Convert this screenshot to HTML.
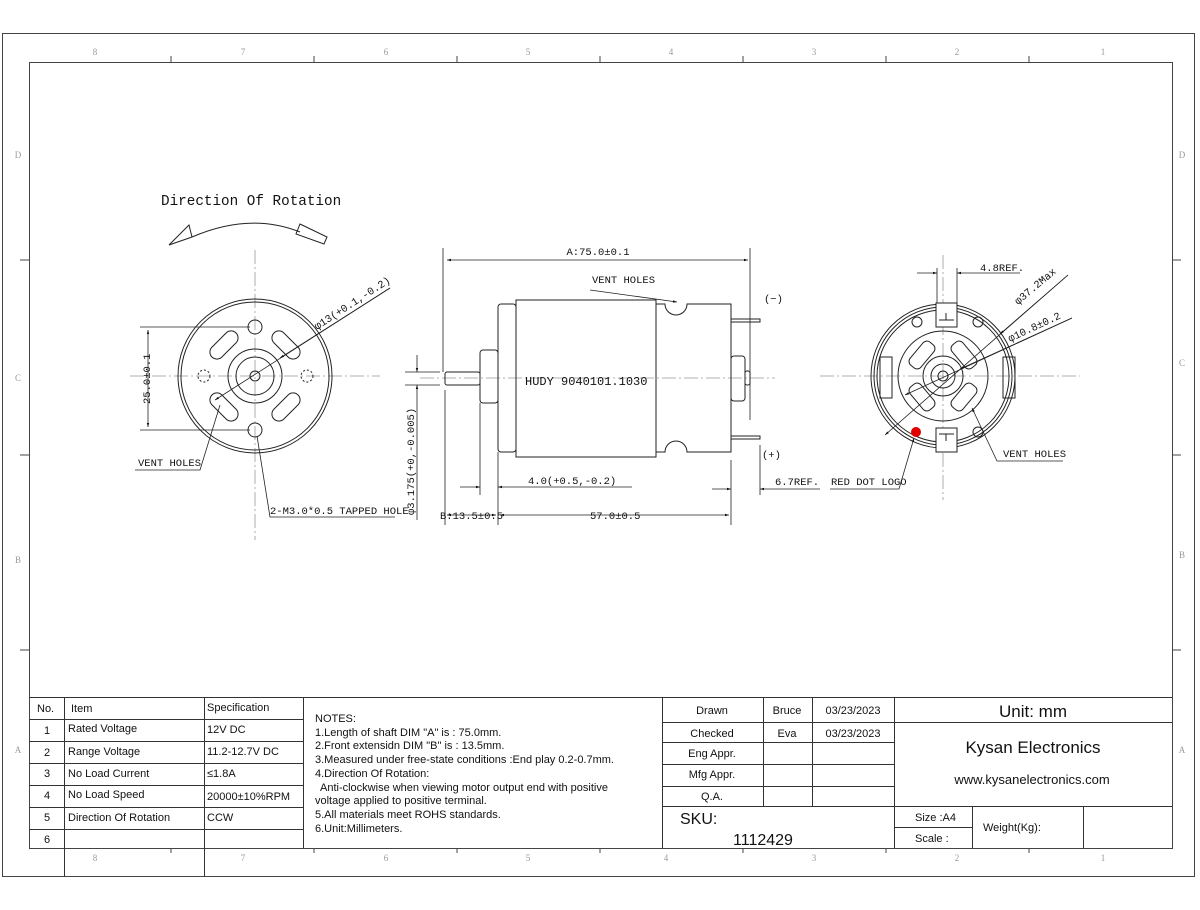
<!DOCTYPE html>
<html><head><meta charset="utf-8"><style>
html,body{margin:0;padding:0;background:#fff}
svg{display:block}
.t{font-family:"Liberation Mono",monospace;font-size:10.5px;fill:#111}
.s{font-family:"Liberation Sans",sans-serif;font-size:11px;fill:#111}
.g{font-family:"Liberation Serif",serif;font-size:9px;fill:#999}
</style></head><body>
<svg width="1200" height="910" viewBox="0 0 1200 910" xmlns="http://www.w3.org/2000/svg">
<defs>
<marker id="a" viewBox="0 0 10 10" refX="10" refY="5" markerWidth="9" markerHeight="5" orient="auto-start-reverse"><path d="M0,2 L10,5 L0,8z" fill="#111"/></marker>
</defs>
<g fill="none" stroke="#444" stroke-width="1">
<rect x="2.5" y="33.5" width="1192" height="843"/>
<rect x="29.5" y="62.5" width="1143" height="786"/>
</g>
<g stroke="#444" stroke-width="1">
<path d="M171 56v6M314 56v6M457 56v6M600 56v6M743 56v6M886 56v6M1029 56v6"/>
<path d="M171 848v5M314 848v5M457 848v5M600 848v5M743 848v5M886 848v5M1029 848v5"/>
<path d="M20 260h9M20 455h9M20 650h9M1172 260h9M1172 455h9M1172 650h9"/>
</g>
<g class="g" text-anchor="middle">
<text x="95" y="55">8</text><text x="243" y="55">7</text><text x="386" y="55">6</text><text x="528" y="55">5</text><text x="671" y="55">4</text><text x="814" y="55">3</text><text x="957" y="55">2</text><text x="1103" y="55">1</text>
<text x="95" y="861">8</text><text x="243" y="861">7</text><text x="386" y="861">6</text><text x="528" y="861">5</text><text x="666" y="861">4</text><text x="814" y="861">3</text><text x="957" y="861">2</text><text x="1103" y="861">1</text>
<text x="18" y="158">D</text><text x="18" y="381">C</text><text x="18" y="563">B</text><text x="18" y="753">A</text>
<text x="1182" y="158">D</text><text x="1182" y="366">C</text><text x="1182" y="558">B</text><text x="1182" y="753">A</text>
</g>

<!-- LEFT VIEW -->
<text x="161" y="205" class="t" style="font-size:14.3px">Direction Of Rotation</text>
<g fill="none" stroke="#222" stroke-width="1">
<path d="M192 237 Q250 212 300 232"/>
<path d="M169 245 L189 225 L192 237 Z"/>
<path d="M300 224 L327 237 L324 244 L296 234 Z"/>
</g>
<g stroke="#999" stroke-width="0.8" stroke-dasharray="14 3 2 3" fill="none">
<path d="M130 376H380M255 250V540"/>
</g>
<g fill="none" stroke="#222" stroke-width="1">
<circle cx="255" cy="376" r="77"/><circle cx="255" cy="376" r="74"/>
<circle cx="255" cy="376" r="27"/><circle cx="255" cy="376" r="19"/><circle cx="255" cy="376" r="5"/>
<circle cx="255" cy="327" r="7"/><circle cx="255" cy="430" r="7"/>
<circle cx="204" cy="376" r="6" stroke-dasharray="2 2"/><circle cx="307" cy="376" r="6" stroke-dasharray="2 2"/>
<rect x="-17" y="-7" width="34" height="14" rx="7" transform="translate(224 345) rotate(-45)"/>
<rect x="-17" y="-7" width="34" height="14" rx="7" transform="translate(286 345) rotate(45)"/>
<rect x="-17" y="-7" width="34" height="14" rx="7" transform="translate(224 407) rotate(45)"/>
<rect x="-17" y="-7" width="34" height="14" rx="7" transform="translate(286 407) rotate(-45)"/>
</g>
<g stroke="#222" stroke-width="0.8" fill="none">
<path d="M140 327H250M140 430H250"/>
<path d="M148 330V427" marker-start="url(#a)" marker-end="url(#a)"/>
<path d="M390 288 L215 400" marker-end="url(#a)"/>
<path d="M390 288 L280 358" marker-end="url(#a)"/>
<path d="M220 405 L200 470 H135"/>
<path d="M257 436 L270 517 H395"/>
</g>
<text class="t" transform="translate(150 404) rotate(-90)">25.0±0.1</text>
<text class="t" transform="translate(317 330) rotate(-33)">φ13(+0.1,-0.2)</text>
<text class="t" x="138" y="466">VENT HOLES</text>
<text class="t" x="270" y="514">2-M3.0*0.5 TAPPED HOLE</text>

<!-- MIDDLE VIEW -->
<g stroke="#999" stroke-width="0.8" stroke-dasharray="14 3 2 3"><path d="M420 378H775"/></g>
<g fill="none" stroke="#222" stroke-width="1">
<rect x="445" y="372" width="35" height="13" rx="2"/>
<rect x="480" y="350" width="18" height="53" rx="3"/>
<rect x="498" y="304" width="18" height="148" rx="3"/>
<rect x="516" y="300" width="140" height="157"/>
<path d="M656 304 H665 A11 11 0 0 0 687 304 H731 V452 H687 A11 11 0 0 0 665 452 H656"/>
<rect x="731" y="356" width="14" height="45" rx="3"/>
<rect x="745" y="371" width="5" height="14" rx="2"/>
<path d="M731 319H760V322H731M731 436H760V439H731"/>
</g>
<text x="525" y="385" class="t" style="font-size:12px">HUDY 9040101.1030</text>
<g stroke="#222" stroke-width="0.8" fill="none">
<path d="M443 248V372M750 248V420"/>
<path d="M447 260H748" marker-start="url(#a)" marker-end="url(#a)"/>
<path d="M590 290 L677 302" marker-end="url(#a)"/>
<path d="M480 403V495M498 452V525M731 460V525M760 445V495M445 390V525"/>
<path d="M460 487H480" marker-end="url(#a)"/><path d="M632 487H498" marker-end="url(#a)"/>
<path d="M712 489H731" marker-end="url(#a)"/><path d="M820 489H760" marker-end="url(#a)"/>
<path d="M447 515H496" marker-start="url(#a)" marker-end="url(#a)"/>
<path d="M500 515H729" marker-start="url(#a)" marker-end="url(#a)"/>
<path d="M405 372H440M405 385H440"/>
<path d="M417 355V372" marker-end="url(#a)"/><path d="M417 520V385" marker-end="url(#a)"/>
</g>
<text class="t" x="598" y="255" text-anchor="middle">A:75.0±0.1</text>
<text class="t" x="592" y="283">VENT HOLES</text>
<text class="t" x="764" y="302">(−)</text>
<text class="t" x="762" y="458">(+)</text>
<text class="t" x="528" y="484">4.0(+0.5,-0.2)</text>
<text class="t" x="775" y="485">6.7REF.</text>
<text class="t" x="440" y="519">B:13.5±0.5</text>
<text class="t" x="590" y="519">57.0±0.5</text>
<text class="t" transform="translate(414 515) rotate(-90)">φ3.175(+0,-0.005)</text>

<!-- RIGHT VIEW -->
<g stroke="#999" stroke-width="0.8" stroke-dasharray="14 3 2 3"><path d="M820 376H1080M943 255V500"/></g>
<g fill="none" stroke="#222" stroke-width="1">
<circle cx="943" cy="376" r="72"/><circle cx="943" cy="376" r="69"/><circle cx="943" cy="376" r="66"/>
<circle cx="943" cy="376" r="45"/><circle cx="943" cy="376" r="20"/><circle cx="943" cy="376" r="12"/><circle cx="943" cy="376" r="5"/>
<rect x="936" y="303" width="21" height="24" fill="#fff"/><path d="M939 320H954M946 313V320"/>
<rect x="936" y="428" width="21" height="24" fill="#fff"/><path d="M939 434H954M946 434V441"/>
<rect x="880" y="357" width="12" height="41"/><rect x="1003" y="357" width="12" height="41"/>
<circle cx="917" cy="322" r="5"/><circle cx="978" cy="322" r="5"/><circle cx="978" cy="432" r="5"/>
<rect x="-15" y="-7" width="30" height="14" rx="5" transform="translate(922 355) rotate(-50)"/>
<rect x="-15" y="-7" width="30" height="14" rx="5" transform="translate(964 355) rotate(50)"/>
<rect x="-15" y="-7" width="30" height="14" rx="5" transform="translate(922 397) rotate(50)"/>
<rect x="-15" y="-7" width="30" height="14" rx="5" transform="translate(964 397) rotate(-50)"/>
</g>
<circle cx="916" cy="432" r="5" fill="#e00000"/>
<g stroke="#222" stroke-width="0.8" fill="none">
<path d="M937 268V303M957 268V303"/>
<path d="M917 273H937" marker-end="url(#a)"/><path d="M1020 273H957" marker-end="url(#a)"/>
<path d="M1068 275 L885 435" marker-end="url(#a)"/>
<path d="M1068 275 L1000 334" marker-end="url(#a)"/>
<path d="M1072 318 L905 395" marker-end="url(#a)"/>
<path d="M1072 318 L960 369" marker-end="url(#a)"/>
<path d="M1063 461H997 L972 408" marker-end="url(#a)"/>
<path d="M830 489H899 L914 438" marker-end="url(#a)"/>
</g>
<text class="t" x="980" y="271">4.8REF.</text>
<text class="t" transform="translate(1018 305) rotate(-40)">φ37.2Max</text>
<text class="t" transform="translate(1010 342) rotate(-25)">φ10.8±0.2</text>
<text class="t" x="1003" y="457">VENT HOLES</text>
<text class="t" x="831" y="485">RED DOT LOGO</text>

<!-- TABLE -->
<g stroke="#333" stroke-width="1" fill="none">
<path d="M29 697.5H1172"/>
<path d="M64.5 697V877M204.5 697V877M303.5 697V848"/>
<path d="M29 719.5H303M29 741.5H303M29 763.5H303M29 785.5H303M29 807.5H303M29 829.5H303"/>
<path d="M662.5 697V848M763.5 697V806M812.5 697V806M894.5 697V848"/>
<path d="M662 722.5H894M662 742.5H894M662 764.5H894M662 786.5H894M662 806.5H1172M894 722.5H1172"/>
<path d="M894 827.5H972M972.5 806V848M1083.5 806V848"/>
</g>
<g class="s">
<text x="37" y="712">No.</text><text x="71" y="712">Item</text><text x="207" y="711">Specification</text>
<text x="44" y="734">1</text><text x="68" y="732">Rated Voltage</text><text x="207" y="733">12V DC</text>
<text x="44" y="756">2</text><text x="68" y="755">Range Voltage</text><text x="207" y="755">11.2-12.7V DC</text>
<text x="44" y="777">3</text><text x="68" y="777">No Load Current</text><text x="207" y="777">≤1.8A</text>
<text x="44" y="799">4</text><text x="68" y="798">No Load Speed</text><text x="207" y="800">20000±10%RPM</text>
<text x="44" y="821">5</text><text x="68" y="821">Direction Of Rotation</text><text x="207" y="821">CCW</text>
<text x="44" y="843">6</text>
<text x="315" y="722">NOTES:</text>
<text x="315" y="736">1.Length of shaft DIM "A" is : 75.0mm.</text>
<text x="315" y="749">2.Front extensidn DIM "B" is : 13.5mm.</text>
<text x="315" y="763">3.Measured under free-state conditions :End play 0.2-0.7mm.</text>
<text x="315" y="777">4.Direction Of Rotation:</text>
<text x="320" y="791">Anti-clockwise when viewing motor output end with positive</text>
<text x="315" y="804">voltage applied to positive terminal.</text>
<text x="315" y="818">5.All materials meet ROHS standards.</text>
<text x="315" y="832">6.Unit:Millimeters.</text>
<g text-anchor="middle">
<text x="712" y="714">Drawn</text><text x="787" y="714">Bruce</text><text x="853" y="714">03/23/2023</text>
<text x="712" y="737">Checked</text><text x="787" y="737">Eva</text><text x="853" y="737">03/23/2023</text>
<text x="712" y="757">Eng Appr.</text><text x="712" y="778">Mfg Appr.</text><text x="712" y="800">Q.A.</text>
<text x="1033" y="717" style="font-size:17px">Unit: mm</text>
<text x="1033" y="753" style="font-size:17px">Kysan Electronics</text>
<text x="1032" y="784" style="font-size:13px">www.kysanelectronics.com</text>
<text x="763" y="845" style="font-size:16px">1112429</text>
</g>
<text x="680" y="824" style="font-size:16px">SKU:</text>
<text x="915" y="821">Size :A4</text>
<text x="915" y="842">Scale :</text>
<text x="983" y="831">Weight(Kg):</text>
</g>
</svg>
</body></html>
